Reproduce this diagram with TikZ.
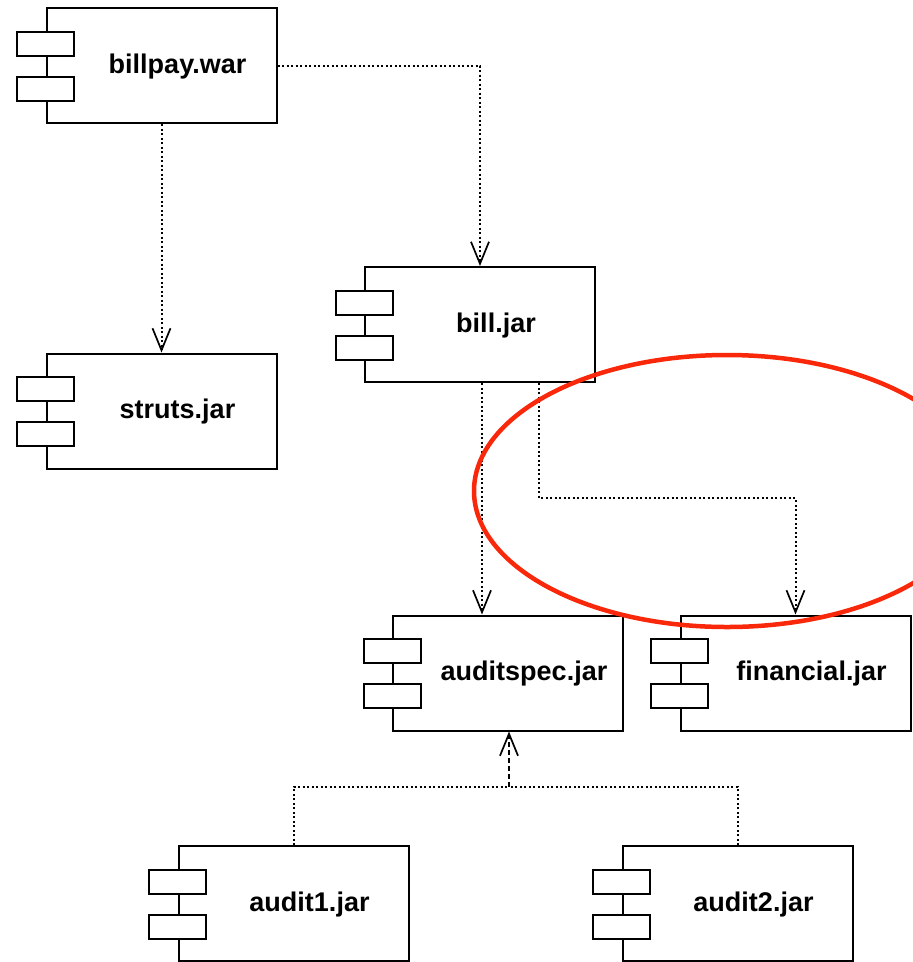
\documentclass[tikz,border=0pt]{standalone}
\usepackage{fontspec}
\setmainfont{Liberation Sans}
\usetikzlibrary{arrows.meta,calc}

\definecolor{markred}{RGB}{250,40,10}

% One UML component: body, two side tabs and its name
\newcommand\umlcomp[4]{%
  \node[comp] (#1) at (#2,#3) {};
  \node[tab] (#1-a) at ($(#1.west)+(0,-22)$) {};
  \node[tab] (#1-b) at ($(#1.west)+(0,23)$) {};
  \node[comptext] (#1-name) at ($(#1)+(16,1)$) {#4};
}

\begin{document}
\begin{tikzpicture}[x=1pt,y=-1pt,
  comp/.style={draw, line width=2pt, fill=white, minimum width=230pt,
               minimum height=115pt, inner sep=0pt},
  tab/.style={draw, line width=2pt, fill=white, minimum width=57pt,
              minimum height=24pt, inner sep=0pt},
  comptext/.style={font=\bfseries\fontsize{27}{30}\selectfont, inner sep=0pt},
  tip/.style={-{Straight Barb[length=22pt,width=18pt,line width=1.7pt]}},
  depline/.style={line width=2pt, dash pattern=on 2pt off 2.5pt},
  dep/.style={depline, tip},
  dashdep/.style={line width=2pt, dash pattern=on 5pt off 3pt, tip}]

\useasboundingbox (0,0) rectangle (913,962);
\clip (0,0) rectangle (913,962);

% components
\umlcomp{billpay}{161.5}{65.5}{billpay.war}
\umlcomp{struts}{161.5}{411}{struts.jar}
\umlcomp{bill}{480}{324.5}{bill.jar}
\umlcomp{auditspec}{508}{673}{auditspec.jar}
\umlcomp{financial}{795.5}{673}{financial.jar}
\umlcomp{audit1}{293.5}{903.5}{audit1.jar}
\umlcomp{audit2}{737.5}{903.5}{audit2.jar}

% dependencies
\draw[dep] (billpay.south) -- (struts.north);
\draw[dep] (billpay.east) -| (bill.north);
\draw[dep] ([xshift=2pt]bill.south) -- ([xshift=2pt]bill.south |- auditspec.north);
\coordinate (bend) at ($(bill.south)+(59,115)$);
\draw[dep] ([xshift=59pt]bill.south) -- (bend) -| (financial.north);

\coordinate (join) at ($(auditspec.south)+(1,55)$);
\draw[depline] (audit1.north) |- (join);
\draw[depline] (audit2.north) |- (join);
\draw[dashdep] (join) -- ([xshift=1pt]auditspec.south);

% highlight
\draw[markred, line width=4.5pt] (727,491) ellipse [x radius=253, y radius=136];
\end{tikzpicture}
\end{document}
